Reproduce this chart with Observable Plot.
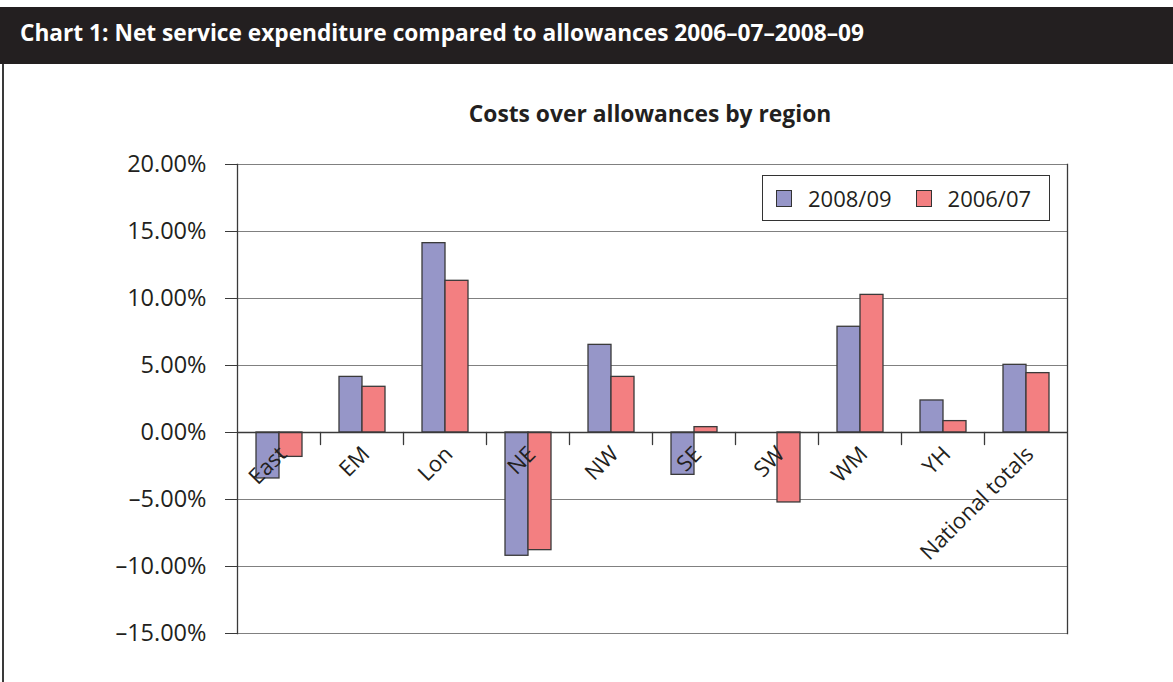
<!DOCTYPE html>
<html>
<head>
<meta charset="utf-8">
<script src="https://cdn.jsdelivr.net/npm/d3@7"></script>
<script src="https://cdn.jsdelivr.net/npm/@observablehq/plot@0.6"></script>
<style>
  html, body { margin: 0; padding: 0; background: #fff; }
  #wrap { position: relative; width: 1173px; height: 682px; overflow: hidden; font-family: "Open Sans", sans-serif; color: #231f20; }
  #header { position: absolute; left: 0; top: 7px; width: 1173px; height: 57px; background: #231f20; color: #fff;
            font-weight: 700; font-size: 22.7px; line-height: 52px; box-sizing: border-box; padding-left: 20px; white-space: nowrap; }
  #leftborder { position: absolute; left: 2px; top: 64px; width: 1.5px; height: 620px; background: #3a3a3a; }
  #subtitle { position: absolute; left: 0; width: 1300px; top: 98px; text-align: center; font-weight: 700; font-size: 22.8px; white-space: nowrap; }
  #chart { position: absolute; left: 0; top: 66px; }
  #legend { position: absolute; left: 762px; top: 175px; width: 288px; height: 46px; box-sizing: border-box; border: 1.5px solid #333;
            display: flex; align-items: center; font-size: 22px; }
  .item { display: flex; align-items: center; }
  .sw { width: 14px; height: 15px; border: 1px solid #333; margin-right: 16px; }
</style>
</head>
<body>
<div id="wrap">
  <div id="header">Chart 1: Net service expenditure compared to allowances 2006–07–2008–09</div>
  <div id="leftborder"></div>
  <div id="subtitle">Costs over allowances by region</div>
  <div id="chart"></div>
  <div id="legend"></div>
</div>
<script>
// ---- data ----
const regions = ["East", "EM", "Lon", "NE", "NW", "SE", "SW", "WM", "YH", "National totals"];
const series = ["2008/09", "2006/07"];
const values2008 = [-0.0343, 0.0415, 0.1413, -0.0920, 0.0654, -0.0316, 0.0, 0.0789, 0.0239, 0.0505];
const values2006 = [-0.0182, 0.0341, 0.1132, -0.0878, 0.0415, 0.0040, -0.0522, 0.1027, 0.0085, 0.0443];
const yTicks = [-0.15, -0.10, -0.05, 0, 0.05, 0.10, 0.15, 0.20];
const colors = ["#9696c8", "#f37f81"];

const rows = [];
regions.forEach((r, i) => {
  rows.push({region: r, series: series[0], value: values2008[i]});
  rows.push({region: r, series: series[1], value: values2006[i]});
});

const fmt = d => (d < -1e-9 ? "\u2013" : "") + Math.abs(d * 100).toFixed(2) + "%";
const lineShape = {draw(context, l) { context.moveTo(0, 0); context.lineTo(0, -l); }};

const chart = Plot.plot({
  width: 1173,
  height: 616,
  marginLeft: 235,
  marginRight: 105,
  marginTop: 98,
  marginBottom: 49,
  style: {fontFamily: "Open Sans, sans-serif", fontSize: "23.5px", color: "#231f20", background: "transparent"},
  fx: {domain: regions, padding: 0, axis: null},
  x: {domain: series, paddingInner: 0, paddingOuter: 0.735, axis: null},
  y: {domain: [-0.15, 0.20], axis: null},
  color: {domain: series, range: colors},
  marks: [
    Plot.gridY(yTicks, {stroke: "#808080", strokeOpacity: 1, strokeWidth: 1.2}),
    Plot.barY(rows, {fx: "region", x: "series", y: "value", fill: "series", stroke: "#3a3a3a", strokeWidth: 1.3}),
    Plot.ruleY([0], {stroke: "#3a3a3a", strokeWidth: 1.3}),
    Plot.vector(regions.slice(1), {fx: d => d, frameAnchor: "left", y: () => 0, length: 12, rotate: 180, anchor: "start",
      shape: lineShape, stroke: "#3a3a3a", strokeWidth: 1.3}),
    Plot.frame({anchor: "left", facetAnchor: "left", stroke: "#3a3a3a", strokeWidth: 1.3}),
    Plot.frame({anchor: "right", facetAnchor: "right", stroke: "#3a3a3a", strokeWidth: 1.3}),
    Plot.axisY(yTicks, {label: null, tickSize: 12, tickPadding: 19, tickFormat: fmt, fontSize: 23.5, stroke: "#3a3a3a", fill: "#231f20"}),
    Plot.text(regions, {fx: d => d, y: () => 0, text: d => d, rotate: -45, textAnchor: "end",
      dx: 4, dy: 18, fontSize: 22, fill: "#231f20"})
  ]
});
document.getElementById("chart").appendChild(chart);

// legend
const legend = document.getElementById("legend");
series.forEach((s, i) => {
  const item = document.createElement("div");
  item.className = "item";
  item.style.marginLeft = i === 0 ? "13px" : "24px";
  item.innerHTML = `<div class="sw" style="background:${colors[i]}"></div><span>${s}</span>`;
  legend.appendChild(item);
});
</script>
</body>
</html>
